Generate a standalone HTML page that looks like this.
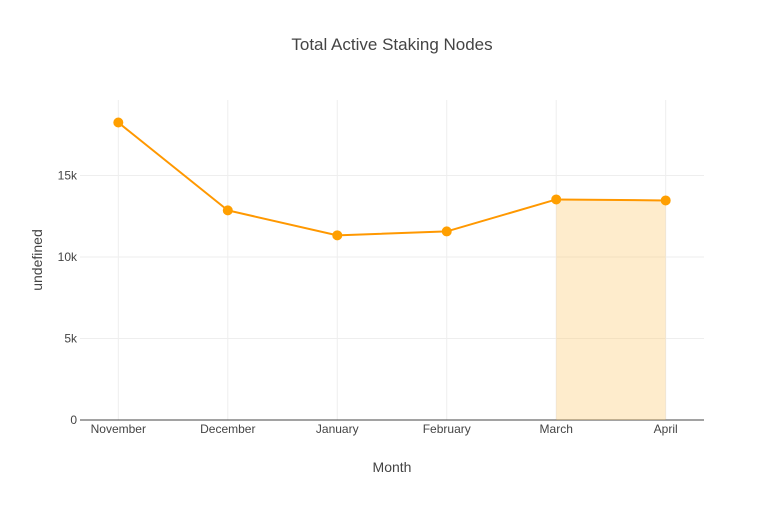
<!DOCTYPE html>
<html><head><meta charset="utf-8"><style>
body{margin:0;background:#fff;font-family:"Liberation Sans",sans-serif;}
svg text{font-family:"Liberation Sans",sans-serif;}
</style></head><body>
<svg id="chart" width="784" height="500"></svg>
<script>
const categories=["November","December","January","February","March","April"];
const nodeCounts=[18250,12860,11330,11570,13530,13470];
const yTicks=[0,5000,10000,15000];
const yTickLabels=["0","5k","10k","15k"];
const highlightStart=4, highlightEnd=5;

const NS="http://www.w3.org/2000/svg";
const svg=document.getElementById('chart');
const L=80,R=704,T=100,B=420;
const step=(R-L)/(categories.length-1+0.7);
function xs(i){return L+0.35*step+i*step;}
function ys(v){return B-v*(B-257)/10000;}
function mk(tag,attrs,txt){const e=document.createElementNS(NS,tag);for(const k in attrs)e.setAttribute(k,attrs[k]);if(txt!==undefined)e.textContent=txt;svg.appendChild(e);return e;}

let t=mk('text',{x:392,y:50,'text-anchor':'middle','font-size':17,fill:'#444'},'Total Active Staking Nodes');



categories.forEach((c,i)=>{
  const g=mk('line',{x1:xs(i),x2:xs(i),y1:T,y2:B,stroke:'#eee','stroke-width':1});
  
  
  const lb=mk('text',{x:xs(i),y:433,'text-anchor':'middle','font-size':12,fill:'#444'},c);
  
  
});
yTicks.forEach((v,i)=>{
  if(v>0){const g=mk('line',{x1:L,x2:R,y1:ys(v),y2:ys(v),stroke:'#eee','stroke-width':1});
  
  }
  const lb=mk('text',{x:L-3,y:ys(v)+4,'text-anchor':'end','font-size':12,fill:'#444'},yTickLabels[i]);
  
  
});
const ax=mk('line',{x1:L,x2:R,y1:B,y2:B,stroke:'#444','stroke-width':1});



const area=mk('polygon',{points:`${xs(highlightStart)},${B} ${xs(highlightStart)},${ys(nodeCounts[highlightStart])} ${xs(highlightEnd)},${ys(nodeCounts[highlightEnd])} ${xs(highlightEnd)},${B}`,fill:'rgba(253,200,110,0.35)'});



const line=mk('polyline',{points:nodeCounts.map((v,i)=>xs(i)+','+ys(v)).join(' '),fill:'none',stroke:'#ff9800','stroke-width':2});


nodeCounts.forEach((v,i)=>{
  const p=mk('circle',{cx:xs(i),cy:ys(v),r:5,fill:'#ff9f00'});
  
  
});

const xt=mk('text',{x:392,y:472,'text-anchor':'middle','font-size':14,fill:'#444'},'Month');


const yt=mk('text',{x:42,y:260,'text-anchor':'middle','font-size':14,fill:'#444',transform:'rotate(-90 42 260)'},'undefined');


</script>
</body></html>
